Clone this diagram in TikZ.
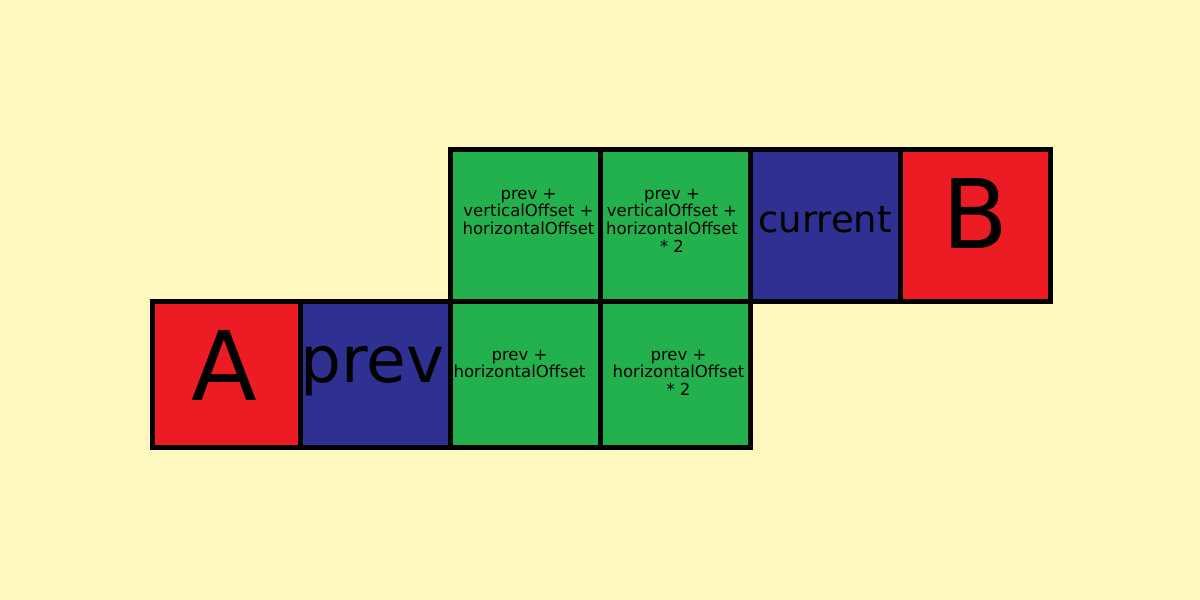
\documentclass[tikz,border=0pt]{standalone}
\usepackage{fontspec}
\setmainfont{DejaVu Sans}
\definecolor{bgyellow}{HTML}{FFF8BE}
\definecolor{cellred}{HTML}{ED1C24}
\definecolor{cellblue}{HTML}{2E3192}
\definecolor{cellgreen}{HTML}{22B14C}
\tikzset{
  cellbox/.style={draw=black, line width=5pt},
  biglabel/.style={anchor=base, inner sep=0pt, font=\fontsize{96}{100}\selectfont},
  midlabel/.style={anchor=base, inner sep=0pt},
  smalllabel/.style={anchor=base, inner sep=0pt, align=center, font=\fontsize{16.5}{17.6}\selectfont},
}
\begin{document}
\begin{tikzpicture}[x=1pt,y=-1pt]
\fill[bgyellow] (0,0) rectangle (1200,600);
\useasboundingbox (0,0) rectangle (1200,600);
% fills
\fill[cellred]   (152.5,301) rectangle (300,447);
\fill[cellblue]  (300,301) rectangle (450,447);
\fill[cellgreen] (450,301) rectangle (600,447);
\fill[cellgreen] (600,301) rectangle (750,447);
\fill[cellgreen] (450,149.5) rectangle (600,301);
\fill[cellgreen] (600,149.5) rectangle (750,301);
\fill[cellblue]  (750,149.5) rectangle (900,301);
\fill[cellred]   (900,149.5) rectangle (1050,301);
% borders
\draw[cellbox] (152.5,301) rectangle (300,447);
\draw[cellbox] (300,301) rectangle (450,447);
\draw[cellbox] (450,301) rectangle (600,447);
\draw[cellbox] (600,301) rectangle (750,447);
\draw[cellbox] (450,149.5) rectangle (600,301);
\draw[cellbox] (600,149.5) rectangle (750,301);
\draw[cellbox] (750,149.5) rectangle (900,301);
\draw[cellbox] (900,149.5) rectangle (1050,301);
% labels (base anchor = baseline of the last line)
\node[biglabel] (labA) at (224,400) {A};
\node[biglabel] (labB) at (975.5,248) {B};
\node[midlabel, font=\fontsize{64.5}{70}\selectfont] (labprev) at (372.5,382.7) {prev};
\node[midlabel, font=\fontsize{37}{40}\selectfont] (labcur) at (825,232.7) {current};
\node[smalllabel] (labtl) at (528.5,234.5) {prev +\\verticalOffset +\\horizontalOffset};
\node[smalllabel] (labtr) at (672,252.1) {prev +\\verticalOffset +\\horizontalOffset\\* 2};
\node[smalllabel] (labbl) at (519.5,377.6) {prev +\\horizontalOffset};
\node[smalllabel] (labbr) at (678.5,395.2) {prev +\\horizontalOffset\\* 2};
\end{tikzpicture}
\end{document}
